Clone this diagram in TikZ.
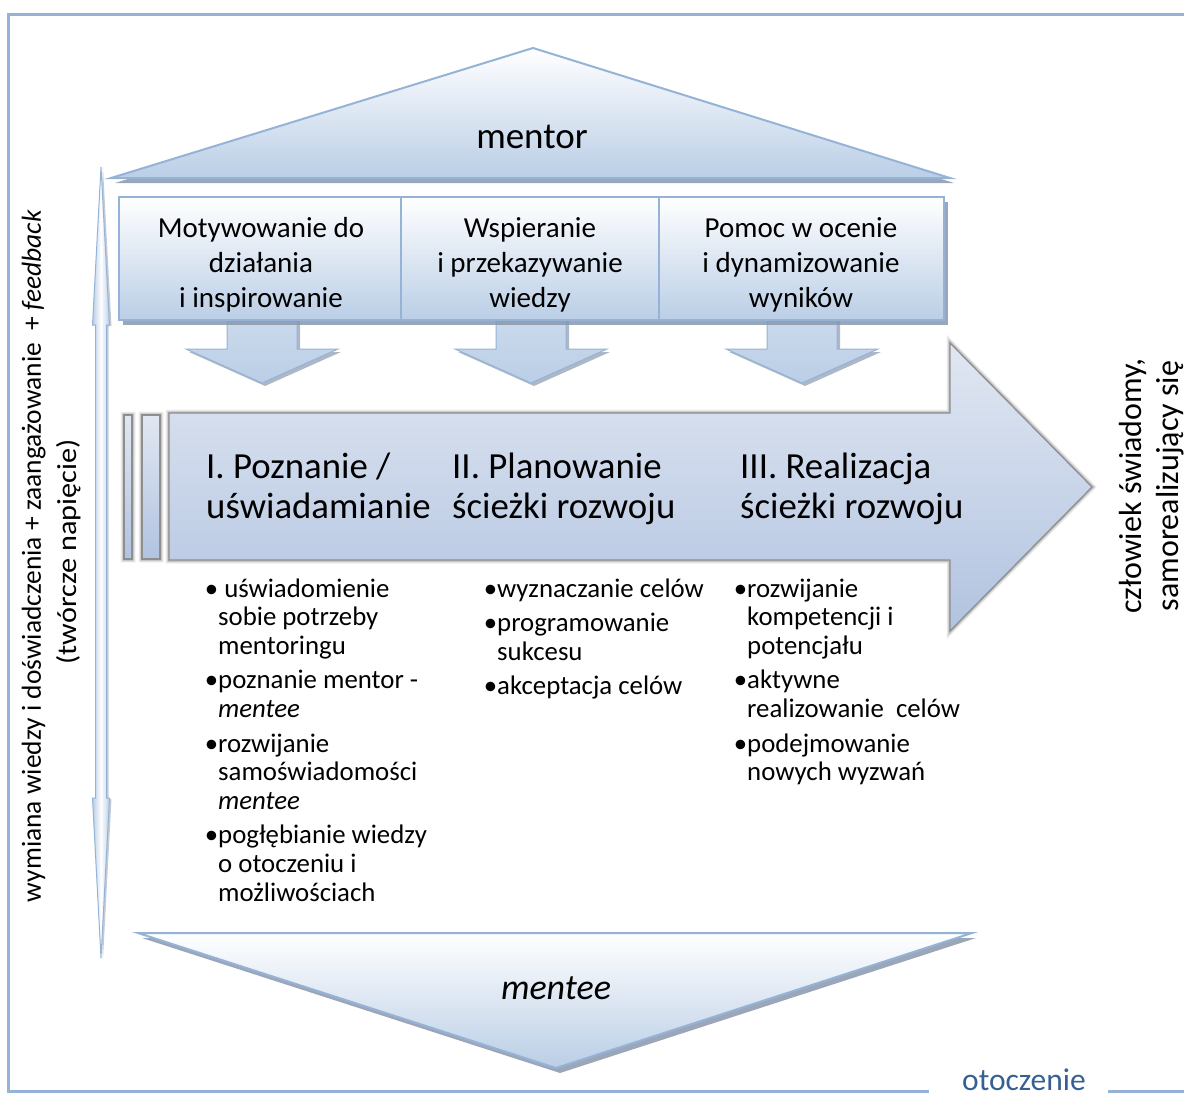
\documentclass[tikz,border=0pt]{standalone}
\usepackage{fontspec}
\usepackage{graphicx}
\setmainfont{Carlito}
\usetikzlibrary{shadows}

\definecolor{frameblue}{HTML}{95B3D7}
\definecolor{paleblue}{HTML}{BACEE6}
\definecolor{flowtop}{HTML}{E1E7F2}
\definecolor{flowbot}{HTML}{B1C3E0}
\definecolor{flowedge}{HTML}{8E8E8E}
\definecolor{shadowgray}{HTML}{8A98AC}
\definecolor{envblue}{HTML}{376092}

% stacked lines whose baseline is that of the first line
\newcommand\stackc[1]{\begin{tabular}[t]{@{}c@{}}#1\end{tabular}}
\newcommand\stackl[1]{\begin{tabular}[t]{@{}l@{}}#1\end{tabular}}

\tikzset{
  pane/.style={draw=frameblue, line width=2pt, top color=white, bottom color=paleblue},
  paneshadow/.style={drop shadow={shadow xshift=4pt, shadow yshift=-5pt, fill=shadowgray, opacity=0.85}},
  downarrow/.style={draw=frameblue, line width=1pt, top color=paleblue!75!white, bottom color=paleblue,
    drop shadow={shadow xshift=3pt, shadow yshift=-3pt, fill=shadowgray, opacity=0.7}},
  flow/.style={draw=flowedge, line width=1.2pt, top color=flowtop, bottom color=flowbot},
  glow/.style={draw=black, line join=miter},
  boxtext/.style={anchor=base, inner sep=0pt, font=\fontsize{29}{35}\selectfont},
  phase/.style={anchor=base west, inner sep=0pt, font=\fontsize{36.8}{40}\selectfont},
  items/.style={anchor=base west, inner sep=0pt, font=\fontsize{26.8}{28.8}\selectfont},
  sidelabel/.style={rotate=90, anchor=base, inner sep=0pt},
}

\begin{document}
\begin{tikzpicture}[x=1pt, y=-1pt]
\useasboundingbox (0,0) rectangle (1184,1095);

% environment frame, open at the right
\draw[frameblue, line width=3pt] (1195,14) -- (8,14) -- (8,1091) -- (929,1091);
\draw[frameblue, line width=3pt] (1108,1091) -- (1195,1091);
\node[anchor=base, inner sep=0pt, text=envblue, font=\fontsize{31.5}{36}\selectfont] (env) at (1024,1090) {otoczenie};

% two-way exchange arrow
\draw[draw=frameblue, line width=1pt, left color=paleblue, right color=paleblue, middle color=white,
      drop shadow={shadow xshift=2pt, shadow yshift=-1pt, fill=shadowgray, opacity=0.5}]
  (101,167) -- (109.5,325) -- (106.5,325) -- (106.5,798) -- (109.5,798) -- (101,958)
  -- (92.5,798) -- (95.5,798) -- (95.5,325) -- (92.5,325) -- cycle;

% mentor roof
\draw[pane, paneshadow] (111,178) -- (533,48) -- (950,178) -- cycle;

% arrows from the mentor's roles down to the path
\foreach \cx in {262,531,802}
  \draw[downarrow] (\cx-35,318) -- (\cx+35,318) -- (\cx+35,349) -- (\cx+76,349)
    -- (\cx,383) -- (\cx-76,349) -- (\cx-35,349) -- cycle;

% mentor's roles
\draw[pane, paneshadow] (119,197) rectangle (944,320);
\draw[frameblue, line width=2pt] (401,197) -- (401,320);
\draw[frameblue, line width=2pt] (659,197) -- (659,320);

% development path: soft edge, then the arrow itself
\foreach \w/\o in {7/0.06, 5/0.09, 3/0.14}
  \draw[glow, line width=\w pt, opacity=\o]
    (169,413) -- (950,413) -- (950,343) -- (1092,487) -- (950,631) -- (950,560) -- (169,560) -- cycle
    (124,415) rectangle (132,559) (142,415) rectangle (160,559);
\draw[flow] (124,415) rectangle (132,559);
\draw[flow] (142,415) rectangle (160,559);
\draw[flow] (169,413) -- (950,413) -- (950,343) -- (1092,487) -- (950,631) -- (950,560) -- (169,560) -- cycle;

% mentee base
\draw[pane, paneshadow] (138,933) -- (972,933) -- (556,1068) -- cycle;

% texts
\node[anchor=base, inner sep=0pt, font=\fontsize{37}{44}\selectfont] (mentor) at (532,148) {mentor};
\node[anchor=base, inner sep=0pt, font=\fontsize{36}{44}\selectfont\itshape] (mentee) at (556,999) {mentee};

\node[boxtext] (role1) at (261,237) {\stackc{Motywowanie do\\działania\\i inspirowanie}};
\node[boxtext] (role2) at (530,237) {\stackc{Wspieranie\\i przekazywanie\\wiedzy}};
\node[boxtext] (role3) at (801,237) {\stackc{Pomoc w ocenie\\i dynamizowanie\\wyników}};

\node[phase] (phase1) at (206,478) {\stackl{I. Poznanie /\\uświadamianie}};
\node[phase] (phase2) at (452,478) {\stackl{II. Planowanie\\ścieżki rozwoju}};
\node[phase] (phase3) at (740,478) {\stackl{III. Realizacja\\ścieżki rozwoju}};

\node[items] (tasks1) at (218,597) {\stackl{\llap{•} uświadomienie\\sobie potrzeby\\mentoringu\\[5.5pt]%
  \llap{•}poznanie mentor -\\\textit{mentee}\\[5.5pt]%
  \llap{•}rozwijanie\\samoświadomości\\\textit{mentee}\\[5.5pt]%
  \llap{•}pogłębianie wiedzy\\o otoczeniu i\\możliwościach}};
\node[items] (tasks2) at (497,597) {\stackl{\llap{•}wyznaczanie celów\\[5.5pt]%
  \llap{•}programowanie\\sukcesu\\[5.5pt]%
  \llap{•}akceptacja celów}};
\node[items] (tasks3) at (747,597) {\stackl{\llap{•}rozwijanie\\kompetencji i\\potencjału\\[5.5pt]%
  \llap{•}aktywne\\realizowanie\ \ celów\\[5.5pt]%
  \llap{•}podejmowanie\\nowych wyzwań}};

\node[sidelabel, font=\fontsize{27.5}{30}\selectfont] (exchange) at (41,556)
  {\resizebox{692pt}{\height}{wymiana wiedzy i doświadczenia + zaangażowanie\ \ + \textit{feedback}}};
\node[sidelabel, font=\fontsize{27.5}{30}\selectfont] (tension) at (76,552)
  {\resizebox{225pt}{\height}{(twórcze napięcie)}};

\node[sidelabel, font=\fontsize{32}{37}\selectfont] (outcome) at (1141,486)
  {\stackc{człowiek świadomy,\\samorealizujący się}};
\end{tikzpicture}
\end{document}
